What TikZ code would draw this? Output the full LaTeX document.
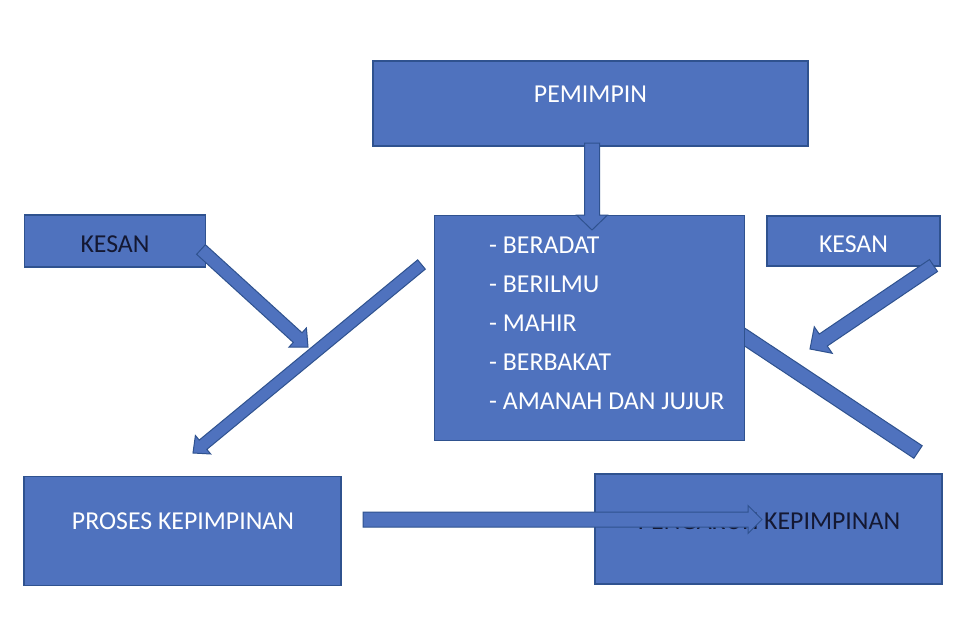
\documentclass[tikz,border=0pt]{standalone}
\usepackage{fontspec}
\setmainfont{Carlito}
\usepackage{tikz}
\usetikzlibrary{calc}

\definecolor{boxblue}{RGB}{79,114,190}
\definecolor{boxedge}{RGB}{47,82,143}
\definecolor{darktext}{RGB}{20,24,50}

\tikzset{
  box/.style={draw=boxedge, fill=boxblue, line width=1.2pt, inner sep=0pt, outer sep=0pt},
  arrowline/.style={draw=boxedge, fill=boxblue, line width=1pt, line join=miter},
  label text/.style={inner sep=0pt, font=\fontsize{25.8pt}{31pt}\selectfont},
  putih/.style={label text, text=white},
  gelap/.style={label text, text=darktext}
}

\newcommand{\blockarrow}[5]{%
  \coordinate (ba-base) at ($(#2)!#5!(#1)$);
  \filldraw[arrowline] ($(#1)!#3!90:(#2)$) -- ($(ba-base)!#3!90:(#2)$) -- ($(ba-base)!#4!90:(#2)$) -- (#2)
    -- ($(ba-base)!#4!-90:(#2)$) -- ($(ba-base)!#3!-90:(#2)$) -- ($(#1)!#3!-90:(#2)$) -- cycle;
}

\begin{document}
\begin{tikzpicture}[x=1pt,y=-1pt]
\useasboundingbox[fill=white] (0,0) rectangle (962,632);

\coordinate (bar-a) at (728,326);
\coordinate (bar-b) at (918,452);
\filldraw[arrowline] ($(bar-a)!7.5pt!90:(bar-b)$) -- ($(bar-b)!7.5pt!-90:(bar-a)$) -- ($(bar-b)!7.5pt!90:(bar-a)$) -- ($(bar-a)!7.5pt!-90:(bar-b)$) -- cycle;

\node[box, minimum width=435pt, minimum height=85pt] (pemimpin) at (590.5,103.5) {};
\node[box, minimum width=310pt, minimum height=225pt] (sifat) at (589.5,328) {};
\node[box, minimum width=181pt, minimum height=52pt] (kesan-kiri) at (115,241) {};
\node[box, minimum width=173pt, minimum height=50pt] (kesan-kanan) at (853.5,241) {};
\node[box, minimum width=317pt, minimum height=109pt] (proses) at (182.5,531) {};
\node[box, minimum width=347pt, minimum height=110pt] (pengaruh) at (768.5,529) {};

\node[putih] (pemimpin-t) at (590.5,94.5) {PEMIMPIN};
\node[gelap] (kesan-kiri-t) at (115,244.5) {KESAN};
\node[putih] (kesan-kanan-t) at (853.5,244) {KESAN};
\node[putih] (proses-t) at (183,521.5) {PROSES KEPIMPINAN};
\node[gelap] (pengaruh-t) at (769,521) {PENGARUH KEPIMPINAN};
\foreach \sifat [count=\i] in {BERADAT, BERILMU, MAHIR, BERBAKAT, AMANAH DAN JUJUR}
  \node[putih, anchor=base west] (sifat-\i) at (489,{253+39*(\i-1)}) {- \sifat};

\coordinate (a1-tail) at (592,143);
\coordinate (a1-tip) at (592,230);
\coordinate (a2-tail) at (201,249.5);
\coordinate (a2-tip) at (308,347);
\coordinate (a3-tail) at (421.5,264.5);
\coordinate (a3-tip) at (193,453);
\coordinate (a4-tail) at (933.5,265.5);
\coordinate (a4-tip) at (810,349);
\coordinate (a6-tail) at (363,519.5);
\coordinate (a6-tip) at (762,519.5);

\blockarrow{a1-tail}{a1-tip}{7.5pt}{15.5pt}{15pt}
\blockarrow{a2-tail}{a2-tip}{6.5pt}{13pt}{14pt}
\blockarrow{a3-tail}{a3-tip}{6pt}{12pt}{13pt}
\blockarrow{a4-tail}{a4-tip}{7.2pt}{16pt}{16pt}
\blockarrow{a6-tail}{a6-tip}{7.5pt}{14pt}{14pt}
\end{tikzpicture}
\end{document}
